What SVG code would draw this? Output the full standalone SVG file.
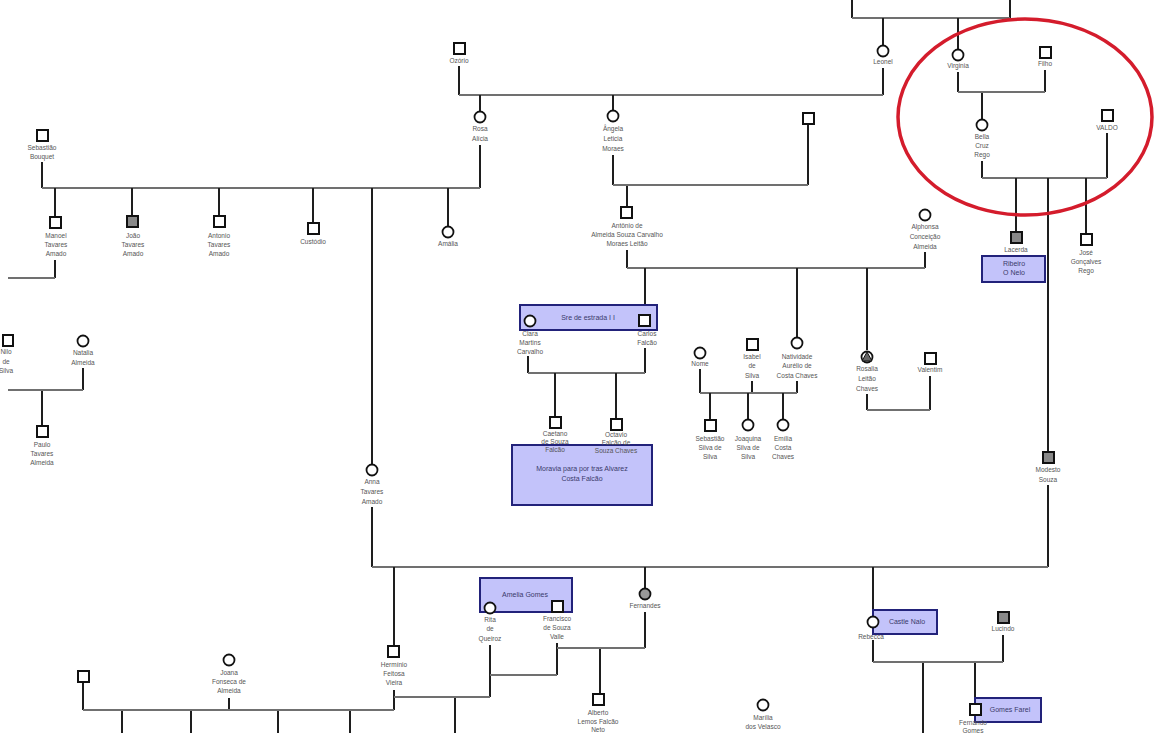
<svg xmlns="http://www.w3.org/2000/svg" width="1154" height="733" viewBox="0 0 1154 733">
<style>
.h{stroke:#707070;stroke-width:2;fill:none}
.v{stroke:#1e1e1e;stroke-width:2;fill:none}
.sq{fill:#fff;stroke:#111;stroke-width:2}
.fq{fill:#888;stroke:#111;stroke-width:2}
.ci{fill:#fff;stroke:#111;stroke-width:1.8}
.fc{fill:#999;stroke:#111;stroke-width:1.8}
.lb{font-family:"Liberation Sans",Arial,sans-serif;font-size:6.5px;fill:#555;text-anchor:middle}
.bt{font-family:"Liberation Sans",Arial,sans-serif;font-size:7px;fill:#3a3a6a;text-anchor:middle}
.box{fill:#c3c3fa;stroke:#22227a;stroke-width:2}
</style>
<rect width="1154" height="733" fill="#fff"/>
<g id="connectors">
<path class="v" d="M852,0V18M1010,0V18"/>
<path class="h" d="M852,18H1010"/>
<path class="v" d="M883,18V45M958,18V49"/>
<path class="v" d="M883,68V95M459,66V95"/>
<path class="h" d="M459,95H883"/>
<path class="v" d="M480,95V111M613,95V110"/>
<path class="v" d="M480,145V188M42,162V188"/>
<path class="h" d="M42,188H480"/>
<path class="v" d="M55,188V216M132,188V216M219,188V216M313,188V223M372,188V464M448,188V226"/>
<path class="v" d="M55,260V278"/>
<path class="h" d="M8,278H55"/>
<path class="v" d="M613,155V185M808,125V185M627,185V207"/>
<path class="h" d="M613,185H808"/>
<path class="v" d="M627,250V268M925,252V268"/>
<path class="h" d="M627,268H925"/>
<path class="v" d="M645,268V314M797,268V337M867,268V350"/>
<path class="v" d="M528,356V373M645,348V373"/>
<path class="h" d="M528,373H645"/>
<path class="v" d="M555,373V416M616,373V418"/>
<path class="v" d="M700,369V393M752,381V393M797,381V393"/>
<path class="h" d="M700,393H797"/>
<path class="v" d="M710,393V420M748,393V419M783,393V419"/>
<path class="v" d="M867,394V410M930,376V410"/>
<path class="h" d="M867,410H930"/>
<path class="v" d="M958,72V92M1045,70V92M982,92V119"/>
<path class="h" d="M958,92H1045"/>
<path class="v" d="M982,161V178M1107,133V178"/>
<path class="h" d="M982,178H1107"/>
<path class="v" d="M1016,178V232M1086,178V234M1048,178V452M1048,485V567M372,507V567"/>
<path class="h" d="M372,567H1048"/>
<path class="v" d="M83,368V390M42,390V426"/>
<path class="h" d="M8,390H83"/>
<path class="v" d="M394,567V646M645,567V588M873,567V616"/>
<path class="v" d="M645,612V648M557,643V675M600,648V694"/>
<path class="h" d="M557,648H645"/>
<path class="v" d="M490,645V697M394,690V710M455,697V733"/>
<path class="h" d="M490,675H557M394,697H490"/>
<path class="v" d="M83,683V710M229,698V710M122,710V733M191,710V733M278,710V733M350,710V733"/>
<path class="h" d="M83,710H394"/>
<path class="v" d="M873,640V662M1003,635V662M923,662V733M975,662V704"/>
<path class="h" d="M873,662H1003"/>
</g>
<g id="boxes">
<rect class="box" x="520" y="305" width="137" height="25"/>
<text class="bt" x="588" y="320">Sre de estrada I I</text>
<rect class="box" x="512" y="445" width="140" height="60"/>
<text class="bt" x="582" y="471">Moravia para por tras Alvarez</text>
<text class="bt" x="582" y="481">Costa Falcão</text>
<rect class="box" x="982" y="256" width="63" height="26"/>
<rect class="box" x="480" y="578" width="92" height="34"/>
<text class="bt" x="525" y="597">Amelia Gomes</text>
<rect class="box" x="873" y="610" width="64" height="24"/>
<text class="bt" x="907" y="624">Castle Nalo</text>
<rect class="box" x="975" y="698" width="66" height="24"/>
<text class="bt" x="1010" y="712">Gomes Farel</text>
</g>
<g id="n_sebastiao"><rect class="sq" x="37" y="130" width="11" height="11"/><text class="lb" x="42" y="150">Sebastião</text><text class="lb" x="42" y="159">Bouquet</text></g>
<g id="n_ozorio"><rect class="sq" x="454" y="43" width="11" height="11"/><text class="lb" x="459" y="63">Ozório</text></g>
<g id="n_leonel"><circle class="ci" cx="883" cy="51" r="5.5"/><text class="lb" x="883" y="64">Leonel</text></g>
<g id="n_virginia"><circle class="ci" cx="958" cy="55" r="5.5"/><text class="lb" x="958" y="68">Virginia</text></g>
<g id="n_filho"><rect class="sq" x="1040" y="47" width="11" height="11"/><text class="lb" x="1045" y="66">Filho</text></g>
<g id="n_rosa"><circle class="ci" cx="480" cy="117" r="5.5"/><text class="lb" x="480" y="131">Rosa</text><text class="lb" x="480" y="141">Alícia</text></g>
<g id="n_angela"><circle class="ci" cx="613" cy="116" r="5.5"/><text class="lb" x="613" y="131">Ângela</text><text class="lb" x="613" y="141">Leticia</text><text class="lb" x="613" y="151">Moraes</text></g>
<g id="n_sq808"><rect class="sq" x="803" y="113" width="11" height="11"/></g>
<g id="n_bella"><circle class="ci" cx="982" cy="125" r="5.5"/><text class="lb" x="982" y="139">Bella</text><text class="lb" x="982" y="148">Cruz</text><text class="lb" x="982" y="157">Rego</text></g>
<g id="n_valdo"><rect class="sq" x="1102" y="110" width="11" height="11"/><text class="lb" x="1107" y="130">VALDO</text></g>
<g id="n_manoel"><rect class="sq" x="50" y="217" width="11" height="11"/><text class="lb" x="56" y="238">Manoel</text><text class="lb" x="56" y="247">Tavares</text><text class="lb" x="56" y="256">Amado</text></g>
<g id="n_joao"><rect class="fq" x="127" y="216" width="11" height="11"/><text class="lb" x="133" y="238">João</text><text class="lb" x="133" y="247">Tavares</text><text class="lb" x="133" y="256">Amado</text></g>
<g id="n_antonio"><rect class="sq" x="214" y="216" width="11" height="11"/><text class="lb" x="219" y="238">Antonio</text><text class="lb" x="219" y="247">Tavares</text><text class="lb" x="219" y="256">Amado</text></g>
<g id="n_custodio"><rect class="sq" x="308" y="223" width="11" height="11"/><text class="lb" x="313" y="244">Custódio</text></g>
<g id="n_amalia"><circle class="ci" cx="448" cy="232" r="5.5"/><text class="lb" x="448" y="246">Amália</text></g>
<g id="n_anna"><circle class="ci" cx="372" cy="470" r="5.5"/><text class="lb" x="372" y="484">Anna</text><text class="lb" x="372" y="494">Tavares</text><text class="lb" x="372" y="504">Amado</text></g>
<g id="n_antonio2"><rect class="sq" x="621" y="207" width="11" height="11"/><text class="lb" x="627" y="228">Antônio de</text><text class="lb" x="627" y="237">Almeida Souza Carvalho</text><text class="lb" x="627" y="246">Moraes Leitão</text></g>
<g id="n_alphonsa"><circle class="ci" cx="925" cy="215" r="5.5"/><text class="lb" x="925" y="229">Alphonsa</text><text class="lb" x="925" y="239">Conceição</text><text class="lb" x="925" y="249">Almeida</text></g>
<g id="n_lacerda"><rect class="fq" x="1011" y="232" width="11" height="11"/><text class="lb" x="1016" y="252">Lacerda</text><text class="bt" x="1014" y="266">Ribeiro</text><text class="bt" x="1014" y="275">O Nelo</text></g>
<g id="n_jose"><rect class="sq" x="1081" y="234" width="11" height="11"/><text class="lb" x="1086" y="255">José</text><text class="lb" x="1086" y="264">Gonçalves</text><text class="lb" x="1086" y="273">Rego</text></g>
<g id="n_clara"><circle class="ci" cx="530" cy="321" r="5.5"/><text class="lb" x="530" y="336">Clara</text><text class="lb" x="530" y="345">Martins</text><text class="lb" x="530" y="354">Carvalho</text></g>
<g id="n_carlos"><rect class="sq" x="639" y="315" width="11" height="11"/><text class="lb" x="647" y="336">Carlos</text><text class="lb" x="647" y="345">Falcão</text></g>
<g id="n_caetano"><rect class="sq" x="550" y="417" width="11" height="11"/><text class="lb" x="555" y="436">Caetano</text><text class="lb" x="555" y="444">de Souza</text><text class="lb" x="555" y="452">Falcão</text></g>
<g id="n_octavio"><rect class="sq" x="611" y="419" width="11" height="11"/><text class="lb" x="616" y="437">Octavio</text><text class="lb" x="616" y="445">Falcão de</text><text class="lb" x="616" y="453">Souza Chaves</text></g>
<g id="n_nome"><circle class="ci" cx="700" cy="353" r="5.5"/><text class="lb" x="700" y="366">Nome</text></g>
<g id="n_isabel"><rect class="sq" x="747" y="339" width="11" height="11"/><text class="lb" x="752" y="359">Isabel</text><text class="lb" x="752" y="368">de</text><text class="lb" x="752" y="378">Silva</text></g>
<g id="n_natividade"><circle class="ci" cx="797" cy="343" r="5.5"/><text class="lb" x="797" y="359">Natividade</text><text class="lb" x="797" y="368">Aurélio de</text><text class="lb" x="797" y="378">Costa Chaves</text></g>
<g id="n_rosalia"><circle class="ci" cx="867" cy="357" r="5.5"/><path d="M862,361L867,352L872,361Z" fill="#666" stroke="#111" stroke-width="1"/><text class="lb" x="867" y="371">Rosalia</text><text class="lb" x="867" y="381">Leitão</text><text class="lb" x="867" y="391">Chaves</text></g>
<g id="n_valentim"><rect class="sq" x="925" y="353" width="11" height="11"/><text class="lb" x="930" y="372">Valentim</text></g>
<g id="n_sebastiao2"><rect class="sq" x="705" y="420" width="11" height="11"/><text class="lb" x="710" y="441">Sebastião</text><text class="lb" x="710" y="450">Silva de</text><text class="lb" x="710" y="459">Silva</text></g>
<g id="n_joaquina"><circle class="ci" cx="748" cy="425" r="5.5"/><text class="lb" x="748" y="441">Joaquina</text><text class="lb" x="748" y="450">Silva de</text><text class="lb" x="748" y="459">Silva</text></g>
<g id="n_emilia"><circle class="ci" cx="783" cy="425" r="5.5"/><text class="lb" x="783" y="441">Emília</text><text class="lb" x="783" y="450">Costa</text><text class="lb" x="783" y="459">Chaves</text></g>
<g id="n_modesto"><rect class="fq" x="1043" y="452" width="11" height="11"/><text class="lb" x="1048" y="472">Modesto</text><text class="lb" x="1048" y="482">Souza</text></g>
<g id="n_left"><rect class="sq" x="3" y="335" width="10" height="11"/><text class="lb" x="6" y="354">Nilo</text><text class="lb" x="6" y="364">de</text><text class="lb" x="6" y="373">Silva</text></g>
<g id="n_natalia"><circle class="ci" cx="83" cy="341" r="5.5"/><text class="lb" x="83" y="355">Natalia</text><text class="lb" x="83" y="365">Almeida</text></g>
<g id="n_paulo"><rect class="sq" x="37" y="426" width="11" height="11"/><text class="lb" x="42" y="447">Paulo</text><text class="lb" x="42" y="456">Tavares</text><text class="lb" x="42" y="465">Almeida</text></g>
<g id="n_herminio"><rect class="sq" x="388" y="646" width="11" height="11"/><text class="lb" x="394" y="667">Hermínio</text><text class="lb" x="394" y="676">Feitosa</text><text class="lb" x="394" y="685">Vieira</text></g>
<g id="n_rita"><circle class="ci" cx="490" cy="608" r="5.5"/><text class="lb" x="490" y="622">Rita</text><text class="lb" x="490" y="631">de</text><text class="lb" x="490" y="641">Queiroz</text></g>
<g id="n_francisco"><rect class="sq" x="552" y="601" width="11" height="11"/><text class="lb" x="557" y="621">Francisco</text><text class="lb" x="557" y="630">de Souza</text><text class="lb" x="557" y="639">Valle</text></g>
<g id="n_fernandes"><circle class="fc" cx="645" cy="594" r="5.5"/><text class="lb" x="645" y="608">Fernandes</text></g>
<g id="n_alberto"><rect class="sq" x="593" y="694" width="11" height="11"/><text class="lb" x="598" y="715">Alberto</text><text class="lb" x="598" y="724">Lemos Falcão</text><text class="lb" x="598" y="732">Neto</text></g>
<g id="n_marilia"><circle class="ci" cx="763" cy="705" r="5.5"/><text class="lb" x="763" y="720">Marília</text><text class="lb" x="763" y="729">dos Velasco</text></g>
<g id="n_rebecca"><circle class="ci" cx="873" cy="622" r="5.5"/><text class="lb" x="871" y="639">Rebecca</text></g>
<g id="n_lucindo"><rect class="fq" x="998" y="612" width="11" height="11"/><text class="lb" x="1003" y="631">Lucindo</text></g>
<g id="n_fernando"><rect class="sq" x="970" y="704" width="11" height="11"/><text class="lb" x="973" y="725">Fernando</text><text class="lb" x="973" y="733">Gomes</text></g>
<g id="n_sq83"><rect class="sq" x="78" y="671" width="11" height="11"/></g>
<g id="n_joana"><circle class="ci" cx="229" cy="660" r="5.5"/><text class="lb" x="229" y="675">Joana</text><text class="lb" x="229" y="684">Fonseca de</text><text class="lb" x="229" y="693">Almeida</text></g>
<ellipse cx="1025" cy="117" rx="127" ry="98" fill="none" stroke="#d41c2c" stroke-width="3.5"/>
</svg>
